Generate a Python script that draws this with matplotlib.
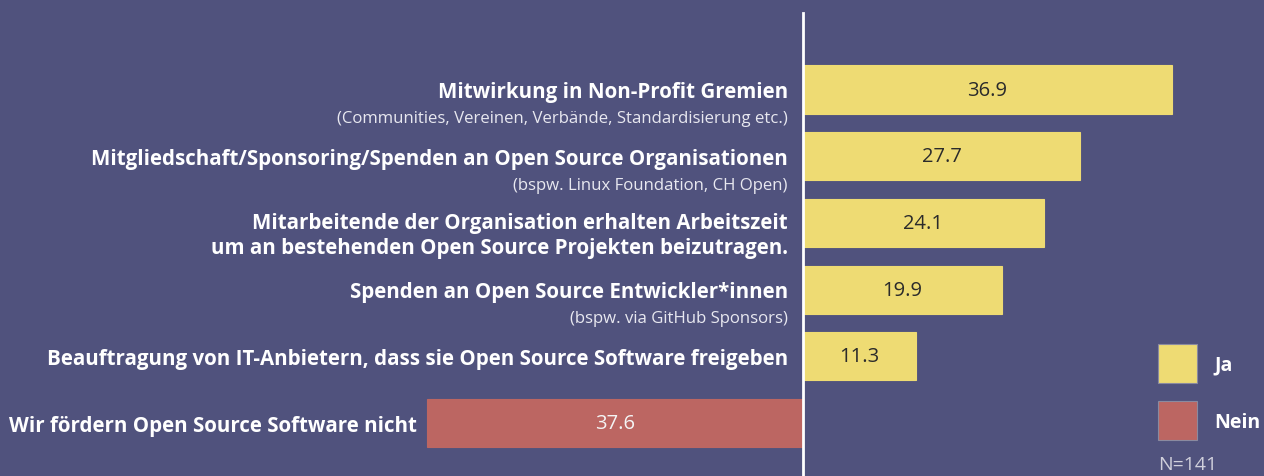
import numpy as np
import matplotlib
matplotlib.use("agg")
import matplotlib.pyplot as plt
from matplotlib.patches import Patch

plt.rcParams['font.family'] = ['Open Sans', 'DejaVu Sans']

# data
main_labels = [
    'Mitwirkung in Non-Profit Gremien',
    'Mitgliedschaft/Sponsoring/Spenden an Open Source Organisationen',
    'Mitarbeitende der Organisation erhalten Arbeitszeit\num an bestehenden Open Source Projekten beizutragen.',
    'Spenden an Open Source Entwickler*innen',
    'Beauftragung von IT-Anbietern, dass sie Open Source Software freigeben',
    'Wir fördern Open Source Software nicht',
]
sub_labels = [
    '(Communities, Vereinen, Verbände, Standardisierung etc.)',
    '(bspw. Linux Foundation, CH Open)',
    '',
    '(bspw. via GitHub Sponsors)',
    '',
    '',
]
values = [36.9, 27.7, 24.1, 19.9, 11.3, 37.6]
answers = ['Ja', 'Ja', 'Ja', 'Ja', 'Ja', 'Nein']
legend_labels = ['Ja', 'Nein']
n_text = 'N=141'

bg = '#50527d'
colors = {'Ja': '#eedb73', 'Nein': '#bc6662'}
value_colors = {'Ja': '#2b2b2b', 'Nein': '#f4f4f4'}

fig = plt.figure(figsize=(12.64, 4.77), dpi=100)
fig.patch.set_facecolor(bg)
ax = fig.add_axes([0, 0, 1, 1])
ax.set_facecolor(bg)
ax.axis('off')

y = np.arange(len(values))
widths = [v if a == 'Ja' else -v for v, a in zip(values, answers)]
bars = ax.barh(y, widths, height=0.72,
               color=[colors[a] for a in answers],
               edgecolor=[colors[a] for a in answers], linewidth=0.8)
ax.set_xlim(-80.3, 46.1)
ax.set_ylim(5.795, -1.357)

for b, v, a in zip(bars, values, answers):
    ax.text(b.get_x() + b.get_width() / 2, b.get_y() + b.get_height() / 2,
            f'{v:.1f}', ha='center', va='center', fontsize=14.5,
            color=value_colors[a])

ax.axvline(0, ymax=0.971, color='white', lw=2)

main_fs = 14.8
sub_fs = 12.1
for i, (m, s, a) in enumerate(zip(main_labels, sub_labels, answers)):
    xpos = -1.5 if a == 'Ja' else -38.6
    if s:
        ax.annotate(m, (xpos, i), xytext=(0, -1.5), textcoords='offset points',
                    ha='right', va='center', fontsize=main_fs, fontweight='bold',
                    color='white')
        ax.annotate(s, (xpos, i), xytext=(0, -20.5), textcoords='offset points',
                    ha='right', va='center', fontsize=sub_fs, color='#e8e8f0')
    elif '\n' in m:
        ax.annotate(m, (xpos, i), xytext=(0, -8.5), textcoords='offset points',
                    ha='right', va='center', fontsize=main_fs, fontweight='bold',
                    color='white', linespacing=1.25)
    else:
        ax.annotate(m, (xpos, i), xytext=(0, -1.5), textcoords='offset points',
                    ha='right', va='center', fontsize=main_fs, fontweight='bold',
                    color='white')

handles = [Patch(facecolor=colors[l], edgecolor='#8a8aa0', linewidth=0.8)
           for l in legend_labels]
leg = fig.legend(handles, legend_labels, loc='upper left',
                 bbox_to_anchor=(1158 / 1264, 1 - 345 / 477),
                 frameon=False, fontsize=14, handlelength=2.0,
                 handleheight=2.7, handletextpad=0.9, labelspacing=0.95,
                 borderpad=0, borderaxespad=0)
for t in leg.get_texts():
    t.set_color('white')
    t.set_fontweight('bold')

fig.text(1158 / 1264, 1 - 465 / 477, n_text, ha='left', va='center',
         fontsize=14, color='#d0d0dc')

fig.savefig('out.png', dpi=100, facecolor=bg)
